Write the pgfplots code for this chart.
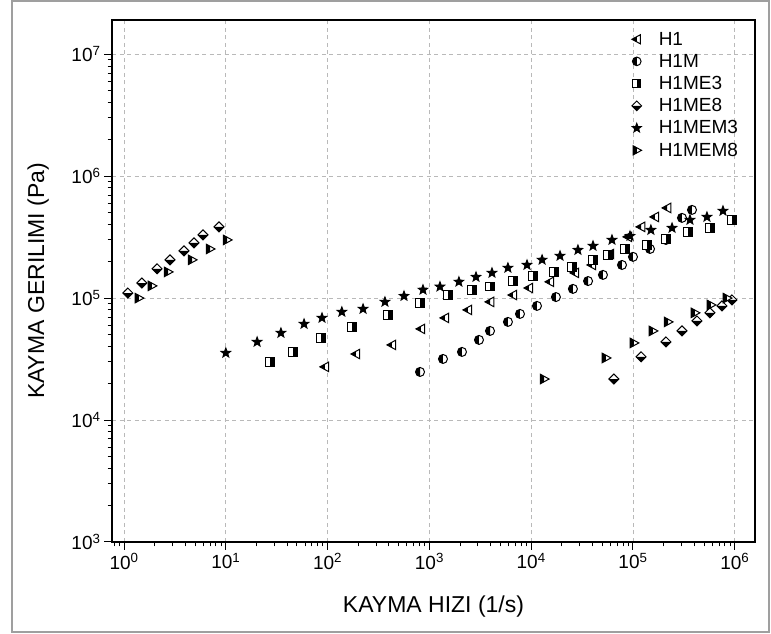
\documentclass[border=0pt]{standalone}
\usepackage{fontspec}
\setmainfont{Liberation Sans}
\usepackage{pgfplots}
\pgfplotsset{compat=1.18}

\makeatletter
% left-pointing triangle, left (tip) half filled
\pgfdeclareplotmark{triL}{%
  \pgfpathmoveto{\pgfqpoint{-\pgfplotmarksize}{0pt}}%
  \pgfpathlineto{\pgfqpoint{0.75\pgfplotmarksize}{0.95\pgfplotmarksize}}%
  \pgfpathlineto{\pgfqpoint{0.75\pgfplotmarksize}{-0.95\pgfplotmarksize}}%
  \pgfpathclose
  \pgfsetfillcolor{white}\pgfusepathqfill
  \pgfpathmoveto{\pgfqpoint{-\pgfplotmarksize}{0pt}}%
  \pgfpathlineto{\pgfqpoint{0pt}{0.543\pgfplotmarksize}}%
  \pgfpathlineto{\pgfqpoint{0pt}{-0.543\pgfplotmarksize}}%
  \pgfpathclose
  \pgfsetfillcolor{black}\pgfusepathqfill
  \pgfpathmoveto{\pgfqpoint{-\pgfplotmarksize}{0pt}}%
  \pgfpathlineto{\pgfqpoint{0.75\pgfplotmarksize}{0.95\pgfplotmarksize}}%
  \pgfpathlineto{\pgfqpoint{0.75\pgfplotmarksize}{-0.95\pgfplotmarksize}}%
  \pgfpathclose
  \pgfusepathqstroke
}
% right-pointing triangle, left half filled
\pgfdeclareplotmark{triR}{%
  \pgfpathmoveto{\pgfqpoint{\pgfplotmarksize}{0pt}}%
  \pgfpathlineto{\pgfqpoint{-0.75\pgfplotmarksize}{0.95\pgfplotmarksize}}%
  \pgfpathlineto{\pgfqpoint{-0.75\pgfplotmarksize}{-0.95\pgfplotmarksize}}%
  \pgfpathclose
  \pgfsetfillcolor{white}\pgfusepathqfill
  \pgfpathmoveto{\pgfqpoint{-0.75\pgfplotmarksize}{0.95\pgfplotmarksize}}%
  \pgfpathlineto{\pgfqpoint{0pt}{0.543\pgfplotmarksize}}%
  \pgfpathlineto{\pgfqpoint{0pt}{-0.543\pgfplotmarksize}}%
  \pgfpathlineto{\pgfqpoint{-0.75\pgfplotmarksize}{-0.95\pgfplotmarksize}}%
  \pgfpathclose
  \pgfsetfillcolor{black}\pgfusepathqfill
  \pgfpathmoveto{\pgfqpoint{\pgfplotmarksize}{0pt}}%
  \pgfpathlineto{\pgfqpoint{-0.75\pgfplotmarksize}{0.95\pgfplotmarksize}}%
  \pgfpathlineto{\pgfqpoint{-0.75\pgfplotmarksize}{-0.95\pgfplotmarksize}}%
  \pgfpathclose
  \pgfusepathqstroke
}
% circle, left half filled
\pgfdeclareplotmark{circL}{%
  \pgfpathcircle{\pgfpointorigin}{0.9\pgfplotmarksize}%
  \pgfsetfillcolor{white}\pgfusepathqfill
  \pgfpathmoveto{\pgfqpoint{0pt}{0.9\pgfplotmarksize}}%
  \pgfpatharc{90}{270}{0.9\pgfplotmarksize}%
  \pgfpathclose
  \pgfsetfillcolor{black}\pgfusepathqfill
  \pgfpathcircle{\pgfpointorigin}{0.9\pgfplotmarksize}%
  \pgfusepathqstroke
}
% square, right half filled
\pgfdeclareplotmark{sqR}{%
  \pgfpathrectanglecorners{\pgfqpoint{-0.85\pgfplotmarksize}{-0.85\pgfplotmarksize}}{\pgfqpoint{0.85\pgfplotmarksize}{0.85\pgfplotmarksize}}%
  \pgfsetfillcolor{white}\pgfusepathqfill
  \pgfpathrectanglecorners{\pgfqpoint{0pt}{-0.85\pgfplotmarksize}}{\pgfqpoint{0.85\pgfplotmarksize}{0.85\pgfplotmarksize}}%
  \pgfsetfillcolor{black}\pgfusepathqfill
  \pgfpathrectanglecorners{\pgfqpoint{-0.85\pgfplotmarksize}{-0.85\pgfplotmarksize}}{\pgfqpoint{0.85\pgfplotmarksize}{0.85\pgfplotmarksize}}%
  \pgfusepathqstroke
}
% diamond, bottom half filled
\pgfdeclareplotmark{diaB}{%
  \pgfpathmoveto{\pgfqpoint{0pt}{\pgfplotmarksize}}%
  \pgfpathlineto{\pgfqpoint{\pgfplotmarksize}{0pt}}%
  \pgfpathlineto{\pgfqpoint{0pt}{-\pgfplotmarksize}}%
  \pgfpathlineto{\pgfqpoint{-\pgfplotmarksize}{0pt}}%
  \pgfpathclose
  \pgfsetfillcolor{white}\pgfusepathqfill
  \pgfpathmoveto{\pgfqpoint{-\pgfplotmarksize}{0pt}}%
  \pgfpathlineto{\pgfqpoint{\pgfplotmarksize}{0pt}}%
  \pgfpathlineto{\pgfqpoint{0pt}{-\pgfplotmarksize}}%
  \pgfpathclose
  \pgfsetfillcolor{black}\pgfusepathqfill
  \pgfpathmoveto{\pgfqpoint{0pt}{\pgfplotmarksize}}%
  \pgfpathlineto{\pgfqpoint{\pgfplotmarksize}{0pt}}%
  \pgfpathlineto{\pgfqpoint{0pt}{-\pgfplotmarksize}}%
  \pgfpathlineto{\pgfqpoint{-\pgfplotmarksize}{0pt}}%
  \pgfpathclose
  \pgfusepathqstroke
}
% filled five-point star
\pgfdeclareplotmark{starF}{%
  \pgfpathmoveto{\pgfqpoint{0pt}{0.98\pgfplotmarksize}}%
  \pgfpathlineto{\pgfqpoint{-0.241\pgfplotmarksize}{0.332\pgfplotmarksize}}%
  \pgfpathlineto{\pgfqpoint{-0.930\pgfplotmarksize}{0.302\pgfplotmarksize}}%
  \pgfpathlineto{\pgfqpoint{-0.390\pgfplotmarksize}{-0.128\pgfplotmarksize}}%
  \pgfpathlineto{\pgfqpoint{-0.575\pgfplotmarksize}{-0.790\pgfplotmarksize}}%
  \pgfpathlineto{\pgfqpoint{0pt}{-0.410\pgfplotmarksize}}%
  \pgfpathlineto{\pgfqpoint{0.575\pgfplotmarksize}{-0.790\pgfplotmarksize}}%
  \pgfpathlineto{\pgfqpoint{0.390\pgfplotmarksize}{-0.128\pgfplotmarksize}}%
  \pgfpathlineto{\pgfqpoint{0.930\pgfplotmarksize}{0.302\pgfplotmarksize}}%
  \pgfpathlineto{\pgfqpoint{0.241\pgfplotmarksize}{0.332\pgfplotmarksize}}%
  \pgfpathclose
  \pgfsetfillcolor{black}\pgfusepathqfillstroke
}
\makeatother

\begin{document}
\begin{tikzpicture}
\begin{axis}[
  scale only axis,
  width=643pt, height=522pt,
  xmode=log, ymode=log,
  xmin=0.762, xmax=1.58e6,
  ymin=1e3, ymax=1.91e7,
  axis line style={black, line width=1.2pt},
  tick align=outside,
  xtick pos=bottom, ytick pos=left,
  major tick length=8pt, minor tick length=4.5pt,
  every tick/.style={black, line width=1pt},
  xtick={1,10,100,1000,10000,100000,1000000},
  xticklabels={10\textsuperscript{0},10\textsuperscript{1},10\textsuperscript{2},10\textsuperscript{3},10\textsuperscript{4},10\textsuperscript{5},10\textsuperscript{6}},
  ytick={1000,10000,100000,1000000,10000000},
  yticklabels={10\textsuperscript{3},10\textsuperscript{4},10\textsuperscript{5},10\textsuperscript{6},10\textsuperscript{7}},
  minor xtick={0.8,0.9,2,3,4,5,6,7,8,9,20,30,40,50,60,70,80,90,200,300,400,500,600,700,800,900,2000,3000,4000,5000,6000,7000,8000,9000,20000,30000,40000,50000,60000,70000,80000,90000,200000,300000,400000,500000,600000,700000,800000,900000},
  minor ytick={2000,3000,4000,5000,6000,7000,8000,9000,20000,30000,40000,50000,60000,70000,80000,90000,200000,300000,400000,500000,600000,700000,800000,900000,2000000,3000000,4000000,5000000,6000000,7000000,8000000,9000000},
  grid=major,
  major grid style={gray!55, line width=0.9pt, dash pattern=on 4pt off 3.5pt},
  ticklabel style={font=\fontsize{19}{22}\selectfont},
  xlabel={KAYMA HIZI (1/s)},
  ylabel={KAYMA GERILIMI (Pa)},
  label style={font=\fontsize{23}{26}\selectfont},
  xlabel style={at={(axis description cs:0.5,-0.124)}, anchor=center},
  ylabel style={at={(axis description cs:-0.115,0.5)}, anchor=center},
  legend style={at={(axis description cs:0.98,0.985)}, anchor=north east,
    draw=none, fill=none, font=\fontsize{19}{22}\selectfont,
    row sep=3.5pt, inner sep=2pt},
  legend cell align=left,
  legend image code/.code={%
    \path[draw=none,fill=none] (-6pt,0pt) rectangle (20pt,0.1pt);
    \draw[#1, mark size=4.8pt] plot coordinates {(0pt,0pt)};},
  mark size=5pt,
  every axis plot/.append style={only marks, mark options={draw=black, line width=1pt}},
  clip=false,
]
% H1
\addplot[mark=triL] coordinates {
(94,27300) (190,34800) (429,41300) (827,55900) (1422,68800) (2393,80000)
(3940,93100) (6620,106000) (9510,121000) (15300,136000) (26900,161000)
(39500,187000) (59400,230000) (89300,318000) (120000,384000) (164000,463000) (216000,549000)
};
\addlegendentry{H1}
% H1M
\addplot[mark=circL] coordinates {
(809,24800) (1360,31700) (2090,36200) (3070,45400) (3940,53800) (5910,63800)
(7760,74200) (11400,86300) (17500,102000) (25700,119000) (36200,138000)
(50700,155000) (78000,187000) (100000,218000) (147000,253000) (211000,300000)
(303000,455000) (380000,529000)
};
\addlegendentry{H1M}
% H1ME3
\addplot[mark=sqR] coordinates {
(27.2,30000) (45.7,36200) (86.1,47100) (174,58000) (392,72800) (809,91300)
(1520,106000) (2620,117000) (3940,124000) (6620,138000) (10400,152000)
(16700,164000) (25200,180000) (40500,206000) (56800,226000) (83400,253000)
(137000,273000) (211000,306000) (347000,349000) (570000,376000) (938000,438000)
};
\addlegendentry{H1ME3}
% H1ME8
\addplot[mark=diaB] coordinates {
(1.09,110000) (1.50,133000) (2.11,174000) (2.83,206000) (3.88,244000)
(4.87,284000) (5.97,330000) (8.57,384000)
(65000,21700) (120000,33000) (211000,43700) (303000,53800) (425000,65000)
(570000,75700) (748000,86300) (938000,96600)
};
\addlegendentry{H1ME8}
% H1MEM3
\addplot[mark=starF] coordinates {
(10,35500) (20.3,43700) (34.8,51800) (58.7,61400) (88.1,68800) (138,77100)
(223,81500) (366,93100) (563,104000) (865,117000) (1270,124000) (1950,136000)
(2870,149000) (4120,161000) (5910,177000) (9100,187000) (12800,206000)
(19200,222000) (28800,248000) (40500,268000) (62200,300000) (93500,323000)
(150000,362000) (242000,376000) (363000,438000) (533000,463000) (766000,519000)
};
\addlegendentry{H1MEM3}
% H1MEM8
\addplot[mark=triR] coordinates {
(1.40,100000) (1.88,126000) (2.71,164000) (4.66,206000) (7.0,253000) (10.3,300000)
(13400,21700) (54300,32300) (102000,42900) (157000,53800) (221000,63800)
(406000,75700) (583000,87900) (838000,100000)
};
\addlegendentry{H1MEM8}
\coordinate (BL) at (rel axis cs:-0.1742,-0.1762);
\coordinate (TR) at (rel axis cs:1.0249,1.0383);
\coordinate (FBL) at (rel axis cs:-0.1555,-0.1724);
\coordinate (FTR) at (rel axis cs:1.0218,1.0364);
\end{axis}
\draw[gray!75, line width=1.5pt] (FBL) rectangle (FTR);
\pgfresetboundingbox
\useasboundingbox (BL) rectangle (TR);
\end{tikzpicture}
\end{document}
